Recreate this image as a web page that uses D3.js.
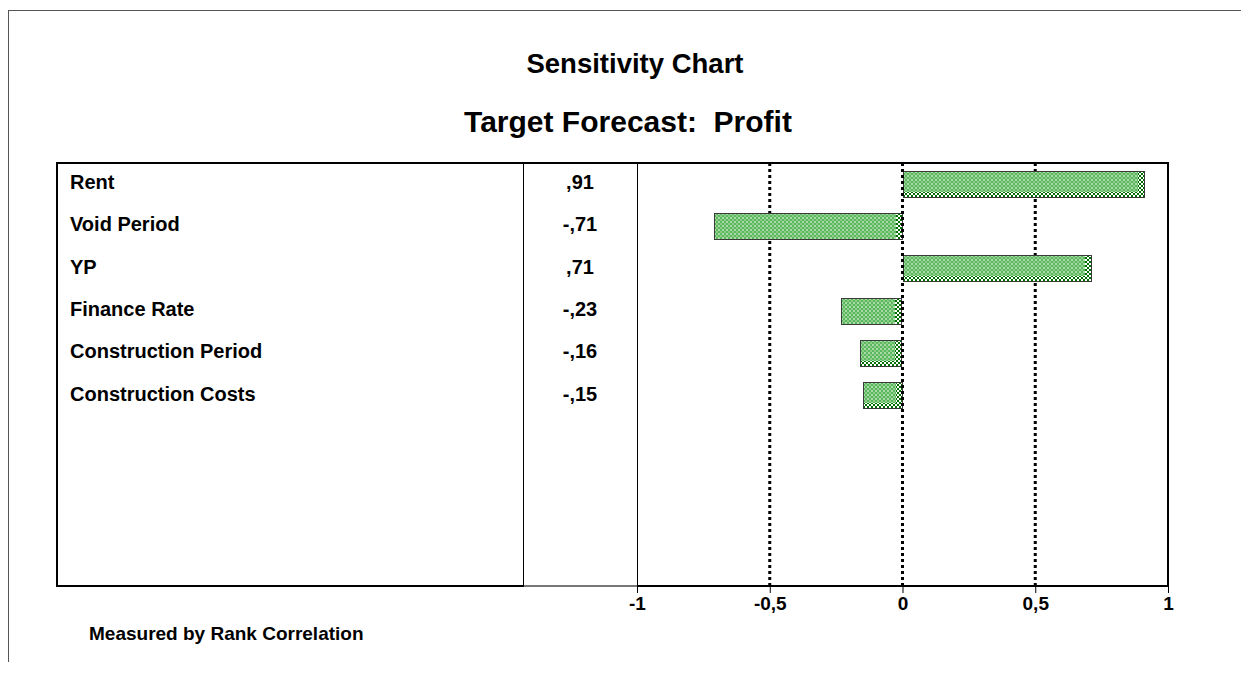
<!DOCTYPE html>
<html lang="en">
<head>
<meta charset="UTF-8">
<title>Sensitivity Chart</title>
<style>
    body { margin: 0; background: #fff; }
    text { font-family: Arial, "Liberation Sans", sans-serif; font-weight: bold; fill: #000; white-space: pre; }
</style>
</head>
<body>
<svg id="chart"></svg>
<script src="https://cdnjs.cloudflare.com/ajax/libs/d3/7.8.5/d3.min.js"></script>
<script>
    // data
    var categories = ["Rent", "Void Period", "YP", "Finance Rate", "Construction Period", "Construction Costs"];
    var correlations = [0.91, -0.71, 0.71, -0.23, -0.16, -0.15];
    var tickValues = [-1, -0.5, 0, 0.5, 1];
    var gridValues = [-0.5, 0, 0.5];
    var rowSlots = 10;

    var width = 1241, height = 675;
    var box = {left: 57, right: 1168, top: 163, bottom: 586};
    var valueCol = {left: 523, right: 637};

    var svg = d3.select("#chart").attr("width", width).attr("height", height);

    var locale = d3.formatLocale({decimal: ",", thousands: ".", grouping: [3], currency: ["", ""], minus: "-"});
    var fmtTick = locale.format("");
    var fmt2 = locale.format(".2f");
    function fmtVal(v) { return fmt2(v).replace(/^(-?)0,/, "$1,"); }

    var x = d3.scaleLinear().domain([-1, 1]).range([valueCol.right, box.right]);
    var y = d3.scaleBand().domain(d3.range(rowSlots)).range([box.top, box.bottom])
        .paddingInner(0.36).paddingOuter(0.18);

    var rows = categories.map(function(c, i) { return {name: c, value: correlations[i], i: i}; });

    // patterns for the bar texture
    var defs = svg.append("defs");
    var dots = defs.append("pattern").attr("id", "dots")
        .attr("patternUnits", "userSpaceOnUse").attr("width", 4).attr("height", 4);
    dots.append("rect").attr("width", 4).attr("height", 4).attr("fill", "#5cb85c");
    dots.append("rect").attr("width", 2).attr("height", 2).attr("fill", "#aadcaa");
    dots.append("rect").attr("x", 2).attr("y", 2).attr("width", 2).attr("height", 2).attr("fill", "#8ccd8c");
    var check = defs.append("pattern").attr("id", "check")
        .attr("patternUnits", "userSpaceOnUse").attr("width", 4).attr("height", 4);
    check.append("rect").attr("width", 4).attr("height", 4).attr("fill", "#fff");
    check.append("rect").attr("width", 2).attr("height", 2).attr("fill", "#006e00");
    check.append("rect").attr("x", 2).attr("y", 2).attr("width", 2).attr("height", 2).attr("fill", "#006e00");

    // outer frame (top and left only)
    svg.append("line").attr("x1", 8).attr("x2", width).attr("y1", 10.5).attr("y2", 10.5)
        .attr("stroke", "#555").attr("stroke-width", 1);
    svg.append("line").attr("x1", 8.5).attr("x2", 8.5).attr("y1", 10).attr("y2", 662)
        .attr("stroke", "#555").attr("stroke-width", 1);

    // titles
    svg.append("text").attr("x", 635).attr("y", 73).attr("text-anchor", "middle")
        .style("font-size", "27.5px").text("Sensitivity Chart");
    svg.append("text").attr("x", 628).attr("y", 132).attr("text-anchor", "middle")
        .style("font-size", "30px").text("Target Forecast:  Profit");

    // column separators
    svg.append("line").attr("x1", valueCol.left + 0.5).attr("x2", valueCol.left + 0.5)
        .attr("y1", box.top).attr("y2", box.bottom).attr("stroke", "#000").attr("stroke-width", 1);
    svg.append("line").attr("x1", x(-1) + 0.5).attr("x2", x(-1) + 0.5)
        .attr("y1", box.top).attr("y2", box.bottom).attr("stroke", "#000").attr("stroke-width", 1);

    // dotted gridlines
    svg.append("g").selectAll("line").data(gridValues).enter().append("line")
        .attr("x1", function(d) { return x(d); }).attr("x2", function(d) { return x(d); })
        .attr("y1", box.top).attr("y2", box.bottom)
        .attr("stroke", "#000").attr("stroke-width", 3).attr("stroke-dasharray", "3,3");

    // bars
    var capW = 7, bandH = 6;
    function barW(d) { return Math.round(Math.abs(x(d.value) - x(0))); }
    var bars = svg.append("g").selectAll("g").data(rows).enter().append("g")
        .attr("transform", function(d) {
            return "translate(" + Math.round(Math.min(x(0), x(d.value))) + "," + Math.round(y(d.i)) + ")";
        });
    bars.append("rect")
        .attr("width", barW)
        .attr("height", Math.round(y.bandwidth()))
        .attr("fill", "url(#dots)");
    bars.filter(function(d) { return d.value > 0 || Math.abs(d.value) < 0.2; })
        .append("rect")
        .attr("y", Math.round(y.bandwidth()) - bandH)
        .attr("width", barW)
        .attr("height", bandH)
        .attr("fill", "url(#check)");
    bars.append("rect")
        .attr("x", function(d) { return barW(d) - capW; })
        .attr("width", capW)
        .attr("height", Math.round(y.bandwidth()))
        .attr("fill", "url(#check)");
    bars.append("rect")
        .attr("x", 0.5).attr("y", 0.5)
        .attr("width", function(d) { return barW(d) - 1; })
        .attr("height", Math.round(y.bandwidth()) - 1)
        .attr("fill", "none").attr("stroke", "#3a3a3a").attr("stroke-width", 1);

    // zero line on top
    svg.append("line").attr("x1", x(0)).attr("x2", x(0))
        .attr("y1", box.top).attr("y2", box.bottom)
        .attr("stroke", "#000").attr("stroke-width", 3).attr("stroke-dasharray", "3,3");

    // labels and values
    svg.append("g").selectAll("text").data(rows).enter().append("text")
        .attr("x", 70)
        .attr("y", function(d) { return y(d.i) + y.bandwidth() / 2; })
        .attr("dy", "0.25em")
        .style("font-size", "20px")
        .text(function(d) { return d.name; });
    svg.append("g").selectAll("text").data(rows).enter().append("text")
        .attr("x", (valueCol.left + valueCol.right) / 2)
        .attr("y", function(d) { return y(d.i) + y.bandwidth() / 2; })
        .attr("dy", "0.25em")
        .attr("text-anchor", "middle")
        .style("font-size", "20px")
        .text(function(d) { return fmtVal(d.value); });

    // plot frame
    svg.append("rect").attr("x", box.left).attr("y", box.top)
        .attr("width", box.right - box.left).attr("height", box.bottom - box.top)
        .attr("fill", "none").attr("stroke", "#000").attr("stroke-width", 2);
    svg.append("line").attr("x1", valueCol.left + 1).attr("x2", valueCol.right)
        .attr("y1", box.bottom).attr("y2", box.bottom)
        .attr("stroke", "#777").attr("stroke-width", 2);

    // axis
    var axis = svg.append("g").attr("transform", "translate(0," + box.bottom + ")")
        .call(d3.axisBottom(x).tickValues(tickValues).tickFormat(fmtTick).tickSize(7).tickPadding(4));
    axis.select(".domain").remove();
    axis.selectAll(".tick line").attr("stroke", "#000");
    axis.selectAll(".tick text").style("font-size", "19px")
        .style("font-family", "Arial, 'Liberation Sans', sans-serif").style("font-weight", "bold");

    svg.append("text").attr("x", 89).attr("y", 640)
        .style("font-size", "19px").text("Measured by Rank Correlation");
</script>
</body>
</html>
